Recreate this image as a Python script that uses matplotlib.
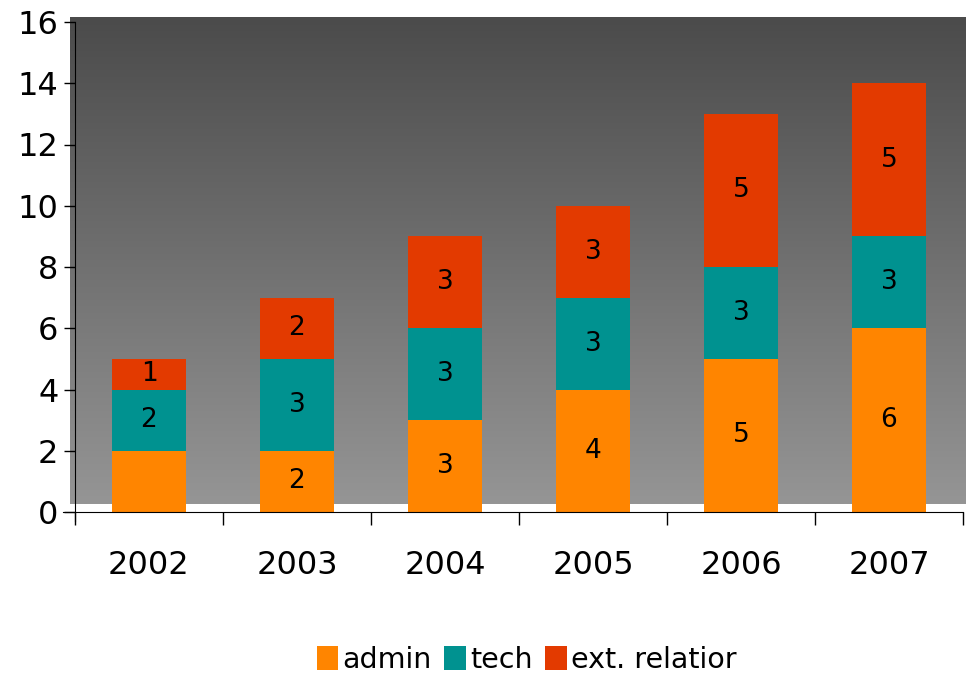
import numpy as np
import matplotlib.pyplot as plt
from matplotlib.colors import LinearSegmentedColormap

# Data
years = ['2002', '2003', '2004', '2005', '2006', '2007']
admin = [2, 2, 3, 4, 5, 6]
tech = [2, 3, 3, 3, 3, 3]
ext = [1, 2, 3, 3, 5, 5]
# the 2002 admin label is not shown in the original
admin_labels = ['', '2', '3', '4', '5', '6']
tech_labels = ['2', '3', '3', '3', '3', '3']
ext_labels = ['1', '2', '3', '3', '5', '5']
series_names = ['admin', 'tech', 'ext. relatior']
colors = ['#FF8500', '#009290', '#E33A00']

W, H = 966, 676
fig = plt.figure(figsize=(W / 100, H / 100), dpi=100)
ax = fig.add_axes([75 / W, 1 - 512 / H, (963 - 75) / W, (512 - 22) / H])
ax.set_xlim(0, 6)
ax.set_ylim(0, 16)
ax.patch.set_visible(False)

# gradient background (extends a little outside the axes, like the original)
cmap = LinearSegmentedColormap.from_list('bg', ['#4b4b4b', '#959595'])
grad = np.linspace(0, 1, 256).reshape(-1, 1)
ax.imshow(grad, cmap=cmap, aspect='auto', extent=(-0.035, 6.02, 0.26, 16.13),
          origin='upper', zorder=0, clip_on=False, interpolation='bilinear')

x = np.arange(len(years)) + 0.5
width = 0.505
bottom = np.zeros(len(years))
for vals, labs, col, name in zip([admin, tech, ext],
                                 [admin_labels, tech_labels, ext_labels],
                                 colors, series_names):
    ax.bar(x, vals, width, bottom=bottom, color=col, label=name, zorder=2)
    for xi, b, v, lab in zip(x, bottom, vals, labs):
        if lab:
            ax.text(xi, b + v / 2, lab, ha='center', va='center',
                    fontsize=19, color='black', zorder=3)
    bottom = bottom + np.array(vals)

ax.set_xticks(x)
ax.set_xticklabels(years)
ax.set_xticks(np.arange(0, 7), minor=True)
ax.tick_params(axis='x', which='major', length=0, pad=27, labelsize=23)
ax.tick_params(axis='x', which='minor', length=9, width=1, direction='out')
ax.set_yticks(range(0, 17, 2))
ax.tick_params(axis='y', length=8, width=1, labelsize=23, pad=4)

for s in ['top', 'right']:
    ax.spines[s].set_visible(False)
ax.spines['left'].set_bounds(-0.3, 16)
ax.spines['bottom'].set_bounds(-0.08, 6)
ax.spines['left'].set_zorder(4)

fig.legend(loc='center', bbox_to_anchor=(0.545, 1 - 660 / H), ncol=3,
           frameon=False, fontsize=20.5, handlelength=0.75, handleheight=0.9,
           handletextpad=0.15, columnspacing=0.45)

fig.savefig('out.png', dpi=100)
